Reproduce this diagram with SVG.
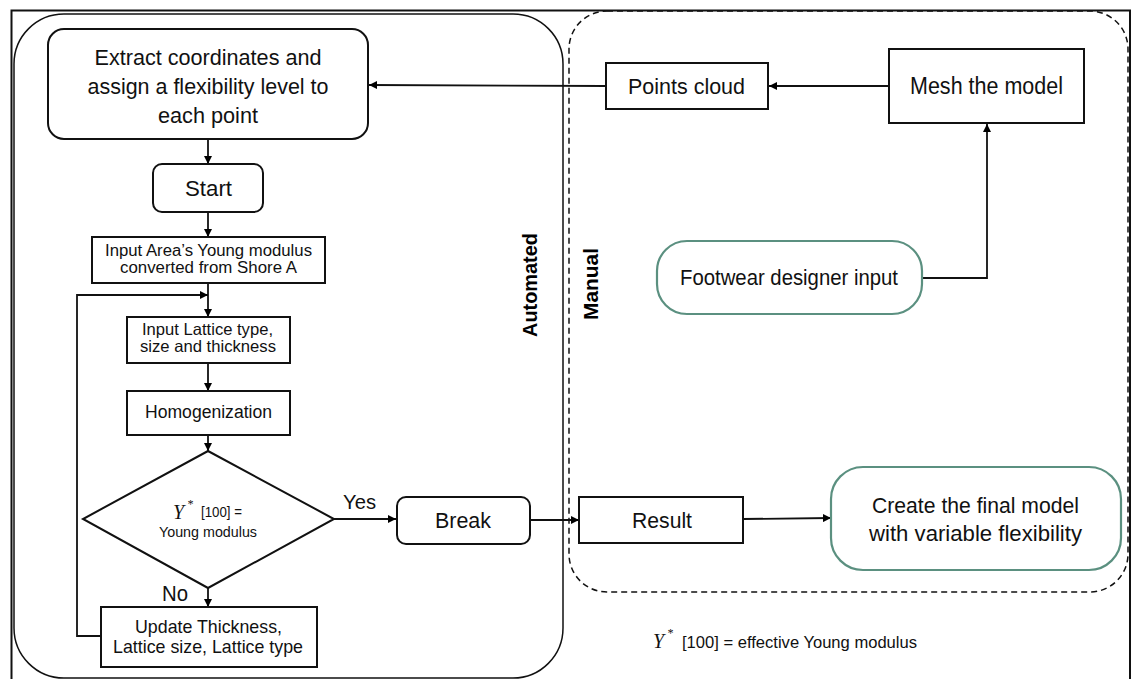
<svg xmlns="http://www.w3.org/2000/svg" width="1132" height="679" viewBox="0 0 1132 679">
<defs>
<marker id="arr" viewBox="0 0 10 10" refX="10" refY="5" markerWidth="8" markerHeight="8" markerUnits="userSpaceOnUse" orient="auto">
<path d="M0,0 L10,5 L0,10 z" fill="#000"/>
</marker>
</defs>
<style>
.box{fill:#fff;stroke:#111;stroke-width:2}
.gbox{fill:#fff;stroke:#5b9080;stroke-width:2.2}
.ln{fill:none;stroke:#111;stroke-width:1.8}
.t{font-family:"Liberation Sans Narrow","Liberation Sans",Arial,sans-serif;fill:#111;text-anchor:middle}
.s{font-family:"Liberation Sans Narrow","Liberation Sans",Arial,sans-serif;fill:#111}
.y{font-family:"Liberation Serif","DejaVu Serif",serif;font-style:italic;fill:#111}
.b{font-family:"Liberation Sans Narrow","Liberation Sans",Arial,sans-serif;font-weight:bold;fill:#000;text-anchor:middle}
</style>
<rect width="1132" height="679" fill="#fff"/>
<!-- frames -->
<g id="frames">
<rect x="11.5" y="10.5" width="1118.5" height="700" fill="none" stroke="#111" stroke-width="2"/>
<rect x="14" y="14" width="549" height="664" rx="50" ry="50" fill="none" stroke="#111" stroke-width="1.5"/>
<rect x="569" y="11" width="559" height="581" rx="38" ry="38" fill="none" stroke="#111" stroke-width="1.5" stroke-dasharray="6,4"/>
<text class="b" font-size="21" transform="translate(537,285) rotate(-90)" textLength="104" lengthAdjust="spacingAndGlyphs">Automated</text>
<text class="b" font-size="21" transform="translate(598,284) rotate(-90)" textLength="72" lengthAdjust="spacingAndGlyphs">Manual</text>
</g>
<!-- connectors -->
<g id="connectors">
<path class="ln" d="M606,86 L369,85" marker-end="url(#arr)"/>
<path class="ln" d="M889,86 L769,86" marker-end="url(#arr)"/>
<path class="ln" d="M922,278 L987,278 L987,124" marker-end="url(#arr)"/>
<path class="ln" d="M208,139 L208,164" marker-end="url(#arr)"/>
<path class="ln" d="M208,212 L208,237" marker-end="url(#arr)"/>
<path class="ln" d="M208,283 L208,317" marker-end="url(#arr)"/>
<path class="ln" d="M101,636 L77,636 L77,295 L208,295" marker-end="url(#arr)"/>
<path class="ln" d="M208,363 L208,391" marker-end="url(#arr)"/>
<path class="ln" d="M208,435 L208,451" marker-end="url(#arr)"/>
<path class="ln" d="M334,519 L396,519" marker-end="url(#arr)"/>
<path class="ln" d="M208,588 L208,607" marker-end="url(#arr)"/>
<path class="ln" d="M530,520 L579,520" marker-end="url(#arr)"/>
<path class="ln" d="M743,519 L831,518" marker-end="url(#arr)"/>
<text class="s" x="343" y="509" font-size="21" textLength="33" lengthAdjust="spacingAndGlyphs">Yes</text>
<text class="s" x="162" y="601" font-size="22" textLength="26" lengthAdjust="spacingAndGlyphs">No</text>
</g>
<g id="extract">
<rect class="box" x="48" y="29" width="320" height="110" rx="16"/>
<text class="t" x="208" y="65" font-size="22" textLength="227" lengthAdjust="spacingAndGlyphs">Extract coordinates and</text>
<text class="t" x="208" y="94" font-size="22" textLength="241" lengthAdjust="spacingAndGlyphs">assign a flexibility level to</text>
<text class="t" x="208" y="123" font-size="22" textLength="100" lengthAdjust="spacingAndGlyphs">each point</text>
</g>
<g id="start">
<rect class="box" x="153" y="164" width="110" height="48" rx="9"/>
<text class="t" x="208.5" y="196" font-size="22" textLength="47" lengthAdjust="spacingAndGlyphs">Start</text>
</g>
<g id="inputArea">
<rect class="box" x="92" y="237" width="233" height="46"/>
<text class="t" x="208.5" y="256" font-size="16" textLength="207" lengthAdjust="spacingAndGlyphs">Input Area’s Young modulus</text>
<text class="t" x="208.5" y="273" font-size="16" textLength="177" lengthAdjust="spacingAndGlyphs">converted from Shore A</text>
</g>
<g id="inputLattice">
<rect class="box" x="127" y="317" width="163" height="46"/>
<text class="t" x="207.5" y="335" font-size="16.5" textLength="131" lengthAdjust="spacingAndGlyphs">Input Lattice type,</text>
<text class="t" x="208" y="352" font-size="16.5" textLength="136" lengthAdjust="spacingAndGlyphs">size and thickness</text>
</g>
<g id="homogenization">
<rect class="box" x="127" y="391" width="163" height="44"/>
<text class="t" x="208.5" y="418" font-size="18" textLength="127" lengthAdjust="spacingAndGlyphs">Homogenization</text>
</g>
<g id="decision">
<polygon class="box" points="208,451 334,519 208,588 83,519"/>
<text class="y" x="173" y="519" font-size="20">Y</text>
<text class="y" x="187" y="508" font-size="12">*</text>
<text class="s" x="201" y="517" font-size="14.5" textLength="41" lengthAdjust="spacingAndGlyphs">[100] =</text>
<text class="t" x="208" y="537" font-size="15" textLength="98" lengthAdjust="spacingAndGlyphs">Young modulus</text>
</g>
<g id="update">
<rect class="box" x="101" y="607" width="216" height="60"/>
<text class="t" x="208.5" y="633" font-size="18.5" textLength="147" lengthAdjust="spacingAndGlyphs">Update Thickness,</text>
<text class="t" x="208" y="653" font-size="18.5" textLength="190" lengthAdjust="spacingAndGlyphs">Lattice size, Lattice type</text>
</g>
<g id="break">
<rect class="box" x="397" y="497" width="133" height="47" rx="9"/>
<text class="t" x="463" y="528" font-size="22" textLength="56" lengthAdjust="spacingAndGlyphs">Break</text>
</g>
<g id="result">
<rect class="box" x="579" y="497" width="164" height="46"/>
<text class="t" x="662" y="528" font-size="22" textLength="60" lengthAdjust="spacingAndGlyphs">Result</text>
</g>
<g id="create">
<rect class="gbox" x="831" y="467" width="290" height="103" rx="32"/>
<text class="t" x="975.5" y="513" font-size="22" textLength="207" lengthAdjust="spacingAndGlyphs">Create the final model</text>
<text class="t" x="975.5" y="541" font-size="22" textLength="213" lengthAdjust="spacingAndGlyphs">with variable flexibility</text>
</g>
<g id="footwear">
<rect class="gbox" x="657" y="241" width="265" height="73" rx="30"/>
<text class="t" x="789" y="285" font-size="22" textLength="218" lengthAdjust="spacingAndGlyphs">Footwear designer input</text>
</g>
<g id="points">
<rect class="box" x="606" y="63" width="162" height="46"/>
<text class="t" x="686.5" y="94" font-size="22" textLength="117" lengthAdjust="spacingAndGlyphs">Points cloud</text>
</g>
<g id="mesh">
<rect class="box" x="889" y="49" width="195" height="74"/>
<text class="t" x="986.5" y="94" font-size="23" textLength="153" lengthAdjust="spacingAndGlyphs">Mesh the model</text>
</g>
<g id="footnote">
<text class="y" x="653" y="648" font-size="20">Y</text>
<text class="y" x="667" y="637" font-size="12">*</text>
<text class="s" x="682" y="648" font-size="17" textLength="235" lengthAdjust="spacingAndGlyphs">[100] = effective Young modulus</text>
</g>
</svg>
